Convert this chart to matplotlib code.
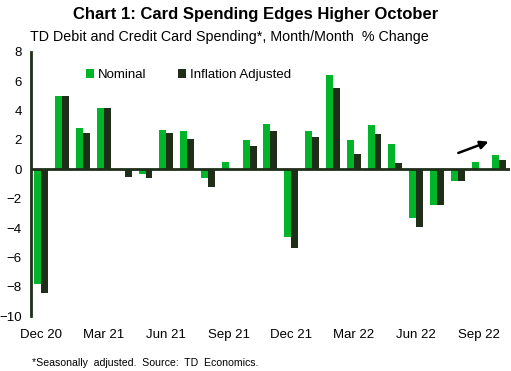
import matplotlib
matplotlib.use("Agg")
import matplotlib.pyplot as plt
import numpy as np

plt.rcParams['font.family'] = ['Liberation Sans', 'DejaVu Sans']

months = ['Dec 20', 'Jan 21', 'Feb 21', 'Mar 21', 'Apr 21', 'May 21', 'Jun 21', 'Jul 21',
          'Aug 21', 'Sep 21', 'Oct 21', 'Nov 21', 'Dec 21', 'Jan 22', 'Feb 22', 'Mar 22',
          'Apr 22', 'May 22', 'Jun 22', 'Jul 22', 'Aug 22', 'Sep 22', 'Oct 22']
nominal = [-7.8, 5.0, 2.8, 4.2, 0.0, -0.3, 2.7, 2.6, -0.6, 0.5, 2.0, 3.1, -4.6, 2.6,
           6.4, 2.0, 3.0, 1.7, -3.3, -2.4, -0.8, 0.5, 1.0]
inflation_adj = [-8.45, 5.0, 2.5, 4.2, -0.55, -0.6, 2.5, 2.1, -1.2, 0.0, 1.6, 2.6, -5.35,
                 2.2, 5.55, 1.05, 2.4, 0.4, -3.9, -2.4, -0.8, 0.0, 0.65]
tick_labels = ['Dec 20', 'Mar 21', 'Jun 21', 'Sep 21', 'Dec 21', 'Mar 22', 'Jun 22', 'Sep 22']

green = '#00B52A'
dark = '#1F2E19'

fig = plt.figure(figsize=(5.11, 3.71), dpi=100)
ax = fig.add_axes([0.0607, 0.148, 0.937, 0.712])

x = np.arange(len(months))
w = 0.335
ax.bar(x - w / 2, nominal, width=w, color=green, label='Nominal', zorder=2)
ax.bar(x + w / 2, inflation_adj, width=w, color=dark, label='Inflation Adjusted', zorder=2)

ax.axhline(0, color=dark, linewidth=2, zorder=3)
ax.set_xlim(-0.5, 22.5)
ax.set_ylim(-10, 8)
ax.set_yticks(range(-10, 9, 2))
ax.set_xticks(x[::3])
ax.set_xticklabels(tick_labels)
ax.tick_params(axis='both', length=0, labelsize=9.5, colors='black')
ax.tick_params(axis='y', pad=6.5)
ax.tick_params(axis='x', pad=9)

for s in ['top', 'right', 'bottom']:
    ax.spines[s].set_visible(False)
ax.spines['left'].set_color(dark)
ax.spines['left'].set_linewidth(2)

ax.legend(loc='upper left', bbox_to_anchor=(0.09, 0.98), ncol=2, frameon=False,
          fontsize=9.5, handlelength=0.6, handleheight=0.6, handletextpad=0.3,
          columnspacing=2.4)

# arrow pointing at October
ax.annotate('', xy=(21.6, 1.95), xytext=(19.9, 1.05),
            arrowprops=dict(arrowstyle='-|>', color='black', lw=1.8, mutation_scale=12))

fig.text(0.5, 0.962, 'Chart 1: Card Spending Edges Higher October', ha='center', va='center',
         fontsize=12, fontweight='bold')
fig.text(0.059, 0.9, 'TD Debit and Credit Card Spending*, Month/Month  % Change',
         ha='left', va='center', fontsize=10.3)
fig.text(0.063, 0.022, '*Seasonally  adjusted.  Source:  TD  Economics.', ha='left',
         va='center', fontsize=7.6)

fig.savefig('out.png', dpi=100)
